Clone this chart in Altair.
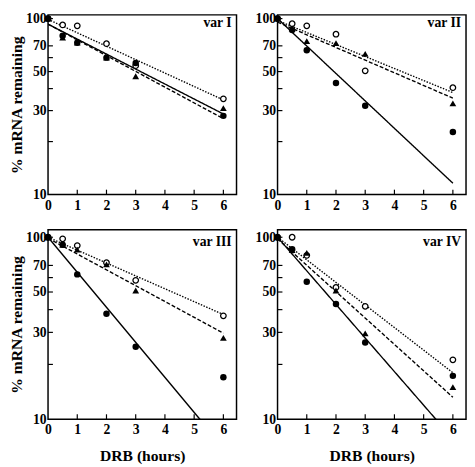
import altair as alt
import pandas as pd

# ---------------- data ----------------
hours = [0, 0.5, 1, 2, 3, 6]
panels = ["var I", "var II", "var III", "var IV"]

filled_circle = {
    "var I":   [100, 80, 73, 60, 56, 28],
    "var II":  [100, 86, 66, 43, 32, 22.7],
    "var III": [100, 91, 62.5, 38, 25, 17],
    "var IV":  [100, 86, 57, 43, 26.4, 17.3],
}
filled_triangle = {
    "var I":   [100, 78, 73, 60, 47, 31],
    "var II":  [100, 88, 74.5, 72.5, 63, 33],
    "var III": [100, 91, 85.5, 71, 51, 28],
    "var IV":  [100, 85, 82, 51, 29.6, 15],
}
open_circle = {
    "var I":   [100, 92, 91, 72, 54, 35],
    "var II":  [100, 93.5, 91, 81.5, 50.5, 40.5],
    "var III": [100, 98, 90, 72.5, 58, 37],
    "var IV":  [100, 100, 79.5, 53, 41.7, 21.2],
}
# fitted exponential-decay lines: value at 0 h and at 6 h
fit_hours = [0, 6]
fit_solid = {"var I": [93, 28.7], "var II": [100, 11.6], "var III": [100, 7.0], "var IV": [100, 7.8]}
fit_dashed = {"var I": [93, 27], "var II": [95.5, 35.3], "var III": [98.8, 29.7], "var IV": [98, 13.2]}
fit_dotted = {"var I": [99, 34.5], "var II": [97.5, 38], "var III": [100, 37.6], "var IV": [100, 18]}

y_label_values = [10, 30, 50, 70, 100]
y_tick_values = [20, 30, 40, 50, 60, 70, 100]
x_label_values = [0, 1, 2, 3, 4, 5, 6]
x_tick_values = [1, 2, 3, 4, 5, 6]

x_title = "DRB (hours)"
y_title = "% mRNA remaining"

# ---------------- styling ----------------
FONT = "Liberation Serif"
W = 193
TICK = 5


def panel(name, height, ydom, ytitle, xtitle, label_y):
    xs = alt.Scale(domain=[0, 6.45], nice=False, zero=False)
    ys = alt.Scale(type="log", domain=ydom, nice=False)
    xaxis = alt.Axis(values=x_label_values, title=x_title if xtitle else None,
                     labelFlush=False, format="d")
    yaxis = alt.Axis(values=y_label_values, title=y_title if ytitle else None, format="d")

    def X(f):
        return alt.X(f"{f}:Q", scale=xs, axis=xaxis)

    def Y(f):
        return alt.Y(f"{f}:Q", scale=ys, axis=yaxis)

    layers = []
    for fits, dash in [(fit_solid, [1, 0]), (fit_dashed, [4, 2]), (fit_dotted, [1.5, 1.5])]:
        df = pd.DataFrame({"x": fit_hours, "y": fits[name]})
        layers.append(
            alt.Chart(df).mark_line(color="black", strokeWidth=1.4, strokeDash=dash, clip=True)
            .encode(x=X("x"), y=Y("y"))
        )
    df_o = pd.DataFrame({"x": hours, "y": open_circle[name]})
    layers.append(
        alt.Chart(df_o).mark_point(shape="circle", fill="white", stroke="black", strokeWidth=1.3,
                                   size=32, opacity=1, fillOpacity=1)
        .encode(x=X("x"), y=Y("y"))
    )
    df_t = pd.DataFrame({"x": hours, "y": filled_triangle[name]})
    layers.append(
        alt.Chart(df_t).mark_point(shape="triangle-up", filled=True, color="black", size=48, opacity=1)
        .encode(x=X("x"), y=Y("y"))
    )
    df_c = pd.DataFrame({"x": hours, "y": filled_circle[name]})
    layers.append(
        alt.Chart(df_c).mark_circle(color="black", size=44, opacity=1)
        .encode(x=X("x"), y=Y("y"))
    )
    # inward ticks
    layers.append(
        alt.Chart(pd.DataFrame({"v": y_tick_values})).mark_rule(color="black", strokeWidth=1.2)
        .encode(y=Y("v"), x=alt.value(0), x2=alt.value(TICK))
    )
    layers.append(
        alt.Chart(pd.DataFrame({"v": x_tick_values})).mark_rule(color="black", strokeWidth=1.2)
        .encode(x=X("v"), y=alt.value(height), y2=alt.value(height - TICK))
    )
    # panel label
    layers.append(
        alt.Chart(pd.DataFrame({"t": [name]})).mark_text(
            align="right", baseline="middle", font=FONT, fontWeight="bold", fontSize=14, color="black")
        .encode(text="t:N", x=alt.value(W - 5), y=alt.value(label_y))
    )
    return alt.layer(*layers).properties(width=W, height=height)


top = [panel("var I", 184, [10, 105], True, False, 8),
       panel("var II", 184, [10, 105], False, False, 8)]
bot = [panel("var III", 194, [10, 110], True, True, 12.5),
       panel("var IV", 194, [10, 110], False, True, 12.5)]

chart = alt.concat(
    *top, *bot, columns=2, spacing={"row": 36, "column": 42}, bounds="flush"
).properties(padding={"top": -2.5, "left": 0, "right": 0, "bottom": 0}).configure_view(
    stroke="black", strokeWidth=1.5
).configure_axis(
    domain=False, ticks=False, grid=False, tickSize=0,
    labelFont=FONT, labelFontWeight="bold", labelFontSize=14, labelColor="black", labelPadding=2,
    titleFont=FONT, titleFontWeight="bold", titleFontSize=16, titleColor="black", titlePadding=1,
).configure_axisX(labelPadding=4, titlePadding=11)

chart.save("out.html", embed_options={"renderer": "svg", "actions": False})
